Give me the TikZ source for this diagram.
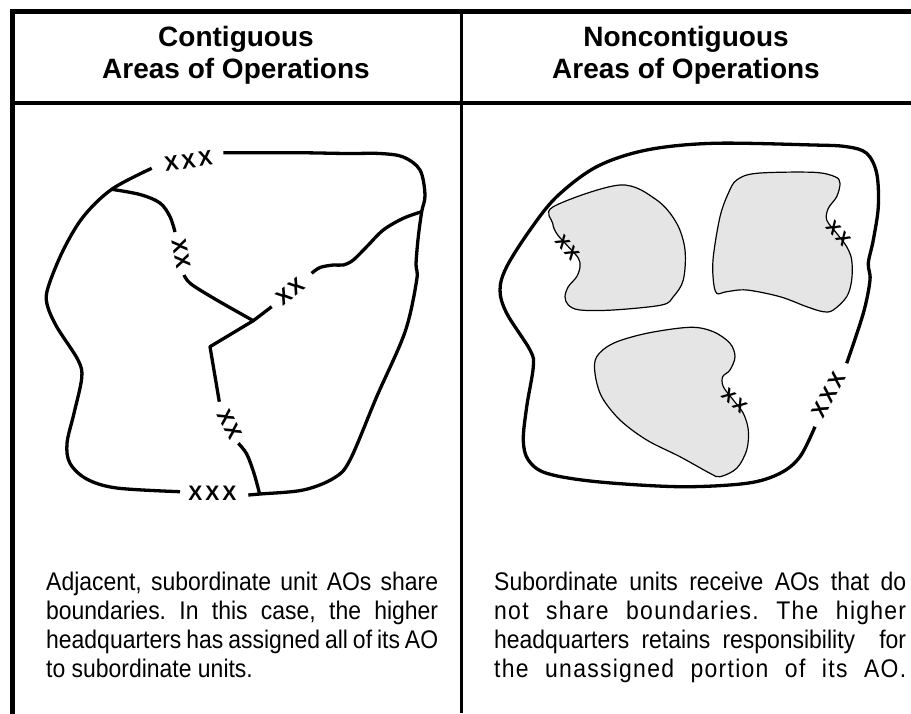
\documentclass[tikz,border=0pt]{standalone}
\usepackage{fontspec}
\setmainfont{Liberation Sans}
\newfontfamily\narrowfont[FakeStretch=0.9]{Liberation Sans}
\newfontfamily\spacedfont[FakeStretch=0.9,LetterSpace=5]{Liberation Sans}
\begin{document}
\frenchspacing
\begin{tikzpicture}[x=1pt,y=-1pt,
  frame/.style={line width=4.8pt,line cap=rect},
  divider/.style={line width=3pt},
  border/.style={line width=3.3pt,line cap=butt,line join=round},
  blob/.style={fill=black!10,draw=black,line width=1.2pt},
  echelon/.style={font=\fontsize{21}{21}\selectfont\bfseries,inner sep=0pt},
  small echelon/.style={font=\fontsize{18}{18}\selectfont\bfseries,inner sep=0pt},
  title/.style={font=\fontsize{28}{32}\selectfont\bfseries,inner sep=0pt,anchor=base},
  body/.style={font=\narrowfont\fontsize{25.5}{29}\selectfont,inner sep=0pt,anchor=base west},
  spaced body/.style={font=\spacedfont\fontsize{25.5}{29}\selectfont,inner sep=0pt,anchor=base west}]
\useasboundingbox (0,0) rectangle (911,713);
% frame
\draw[frame] (12.5,713) -- (12.5,11.7) -- (911,11.7);
\draw[divider] (461.5,11.7) -- (461.5,713);
\draw[line width=4pt] (12.5,103) -- (911,103);
% titles
\node[title] (t1a) at (236,46) {Contiguous};
\node[title] (t1b) at (236,78) {Areas of Operations};
\node[title] (t2a) at (686,46) {Noncontiguous};
\node[title] (t2b) at (686,78) {Areas of Operations};
% body text
\node[body] (l1) at (46,590) {\makebox[392pt][s]{Adjacent, subordinate unit AOs share}};
\node[body] (l2) at (46,619) {\makebox[392pt][s]{boundaries. In this case, the higher}};
\node[body] (l3) at (46,648) {\makebox[392pt][s]{headquarters has assigned all of its AO}};
\node[body] (l4) at (46,677) {to subordinate units.};
\node[body] (r1) at (494,590) {\makebox[412pt][s]{Subordinate units receive AOs that do}};
\node[spaced body] (r2) at (494,619) {\makebox[412pt][s]{not share boundaries. The higher}};
\node[body] (r3) at (494,648) {\makebox[412pt][s]{headquarters retains responsibility\ \ for}};
\node[spaced body] (r4) at (494,677) {\makebox[412pt][s]{the unassigned portion of its AO.}};
% ---------- left diagram ----------
\coordinate (J1) at (111.7,189.3);
\coordinate (J2) at (421.7,211.7);
\coordinate (J3) at (253.3,320.7);
\coordinate (J4) at (259.5,493.5);
\draw[border] plot[smooth,tension=0.55] coordinates {(151.7,168.3) (111.7,189.3) (83.3,216.7) (63.3,250) (48.3,286.7) (47,304) (56.7,326.7) (78,360) (81.7,378) (74,413.3) (67,443.3) (70,463.3) (86.7,479) (116.7,488) (180,491.7)};
\draw[border] plot[smooth,tension=0.55] coordinates {(248.3,495) (260,494) (303.3,490) (334,478) (350,460) (376.7,396.7) (405,332) (416.7,280) (416,264) (418.3,236.7) (421.7,211.7) (425,195) (420,170) (403.3,157) (380,153.5) (346.7,153.5) (296.7,152.7) (223.3,152.7)};
\draw[border] plot[smooth,tension=0.55] coordinates {(J1) (140,194.5) (160,203) (170,216.7) (175,232)};
\draw[border] plot[smooth,tension=0.55] coordinates {(184,275) (191,284) (216.7,300) (J3)};
\draw[border] (271.7,306.7) -- (J3) -- (210,346.7) -- (219.3,401.7);
\draw[border] plot[smooth,tension=0.55] coordinates {(311.7,273.3) (320,267.5) (333.3,265) (343.3,265) (353.3,260) (366.7,246.7) (383.3,230) (403.3,218.3) (J2)};
\draw[border] plot[smooth,tension=0.55] coordinates {(238.3,443.3) (246.7,454) (254,473.3) (J4)};
\node[echelon,rotate=8] (lxxx1) at (188.5,161) {X\hspace{3pt}X\hspace{3pt}X};
\node[echelon] (lxxx2) at (212.5,493) {X\hspace{3pt}X\hspace{3pt}X};
\node[echelon,rotate=-80] (lxx1) at (181,253.5) {X\hspace{1.5pt}X};
\node[echelon,rotate=37] (lxx2) at (290,291.5) {X\hspace{1.5pt}X};
\node[echelon,rotate=-62] (lxx3) at (229.5,424.5) {X\hspace{1.5pt}X};
% ---------- right diagram ----------
\draw[border] plot[smooth,tension=0.55] coordinates {(846.7,363.3) (863.3,313.3) (870,280) (868.3,263.3) (873.3,240) (878.3,206.7) (876.7,173.3) (866.7,153.3) (846.7,146.7) (813.3,145) (713.3,143.3) (646.7,150) (596.7,166.7) (556.7,196.7) (530,230) (506.7,266.7) (500,290) (506.7,313.3) (530,350) (533.3,366.7) (526.7,406.7) (523.3,440) (528.3,460) (546.7,473.3) (596.7,481.7) (680,486.7) (746.7,483.3) (780,473.3) (800,456.7) (815,426.7)};
\draw[blob] plot[smooth cycle,tension=0.55] coordinates {(553.3,206.7) (620,185) (656.7,200) (676.7,223.3) (685,250) (683.3,280) (673.3,296.7) (661.7,305) (613.3,310) (580,310) (568.3,305) (565,296.7) (568.3,286.7) (576.7,276.7) (580,266.7) (578.3,258) (568.3,246.7) (557,234) (552.7,223.3)};
\draw[blob] plot[smooth cycle,tension=0.55] coordinates {(736.7,180) (756.7,173.3) (813.3,172.3) (835,176.7) (840,183.3) (836.7,196.7) (828.3,208.3) (826.7,220) (836.7,233.3) (846.7,246.7) (851.7,260) (851.7,280) (846.7,296.7) (833.3,310) (823.3,311.7) (806.7,306.7) (780,296.7) (746.7,290) (726.7,291.7) (716.7,293.3) (713.3,280) (713.3,256.7) (720,216.7) (728.3,193.3)};
\draw[blob] plot[smooth cycle,tension=0.55] coordinates {(596.7,356.7) (613.3,343.3) (646.7,333.3) (690,327.3) (713.3,331.7) (730,343.3) (735,356.7) (730,370) (722.7,376.7) (723.3,386.7) (733.3,400) (743.3,413.3) (748.3,430) (746.7,450) (736.7,468.3) (720,476.7) (710,473.3) (680,456.7) (646.7,440) (620,420) (601.7,396.7) (595,373.3)};
\node[small echelon,rotate=-50] (bxx1) at (567.3,247.3) {X\hspace{2.5pt}X};
\node[small echelon,rotate=-48] (bxx2) at (838.3,233.3) {X\hspace{2.5pt}X};
\node[small echelon,rotate=-40] (bxx3) at (734.3,400.7) {X\hspace{2.5pt}X};
\node[echelon,rotate=61] (rxxx) at (828.3,395) {X\hspace{3pt}X\hspace{3pt}X};
\end{tikzpicture}
\end{document}
